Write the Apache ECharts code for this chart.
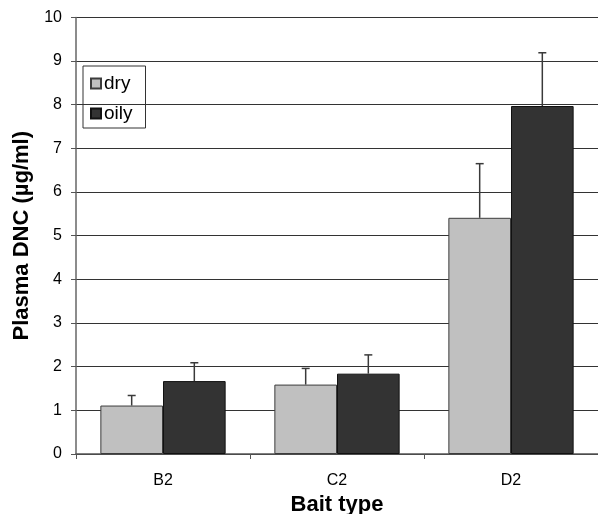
<!DOCTYPE html>
<html>
<head>
<meta charset="utf-8">
<script src="https://cdn.jsdelivr.net/npm/echarts@6/dist/echarts.min.js"></script>
<style>html,body{margin:0;padding:0;background:#fff}#c{width:598px;height:514px}</style>
</head>
<body>
<div id="c"></div>
<script>
const categories = ['B2', 'C2', 'D2'];
const dryValues = [1.11, 1.59, 5.41];
const oilyValues = [1.67, 1.84, 7.97];
const dryErrors = [0.23, 0.37, 1.24];
const oilyErrors = [0.42, 0.43, 1.22];
const yTicks = [0, 1, 2, 3, 4, 5, 6, 7, 8, 9, 10];

const GAP = 0.28;
const FONT = '"Liberation Sans", Arial, sans-serif';

function errorSeries(values, errors, sign) {
  return {
    type: 'custom',
    z: 5,
    silent: true,
    data: values.map((v, i) => [i, v, v + errors[i]]),
    renderItem: function (params, api) {
      const band = api.size([1, 0])[0];
      const bw = band * (1 - GAP) / 2;
      const base = api.coord([api.value(0), api.value(1)]);
      const top = api.coord([api.value(0), api.value(2)]);
      const x = base[0] + sign * bw / 2;
      const style = { stroke: '#3a3a3a', lineWidth: 1.5 };
      return {
        type: 'group',
        children: [
          { type: 'line', shape: { x1: x, y1: base[1], x2: x, y2: top[1] }, style: style },
          { type: 'line', shape: { x1: x - 4, y1: top[1], x2: x + 4, y2: top[1] }, style: style }
        ]
      };
    }
  };
}

const chart = echarts.init(document.getElementById('c'));
chart.setOption({
  animation: false,
  textStyle: { fontFamily: FONT },
  grid: { left: 76, right: 0, top: 17.4, bottom: 60, containLabel: false, outerBoundsMode: 'none' },
  legend: {
    data: ['dry', 'oily'],
    orient: 'vertical',
    left: 83,
    top: 66,
    itemWidth: 10,
    itemHeight: 10,
    itemGap: 11,
    padding: [8, 13, 5, 7],
    borderColor: '#333',
    borderWidth: 1,
    icon: 'rect',
    textStyle: { fontSize: 19, lineHeight: 19, color: '#000', fontFamily: FONT, padding: [0, 0, 0, -2] }
  },
  xAxis: {
    type: 'category',
    data: categories,
    name: 'Bait type',
    nameLocation: 'middle',
    nameGap: 39,
    nameTextStyle: { fontSize: 22, fontWeight: 'bold', color: '#000', fontFamily: FONT },
    axisLine: { lineStyle: { color: '#555', width: 1.5 } },
    axisTick: { show: true, alignWithLabel: false, length: 5, lineStyle: { color: '#555' } },
    axisLabel: { fontSize: 16, color: '#000', margin: 19, fontFamily: FONT }
  },
  yAxis: {
    type: 'value',
    min: 0,
    max: 10,
    interval: 1,
    name: 'Plasma DNC (µg/ml)',
    nameLocation: 'middle',
    nameGap: 41,
    nameTextStyle: { fontSize: 22, fontWeight: 'bold', color: '#000', fontFamily: FONT },
    axisLine: { show: true, lineStyle: { color: '#666', width: 1.5 } },
    axisTick: { show: true, length: 5, lineStyle: { color: '#555' } },
    axisLabel: { fontSize: 16, color: '#000', margin: 14, fontFamily: FONT,
      formatter: v => (yTicks.indexOf(v) >= 0 ? String(v) : '') },
    splitLine: { show: true, lineStyle: { color: '#333', width: 1 } }
  },
  series: [
    {
      name: 'dry', type: 'bar', data: dryValues,
      barGap: '0%', barCategoryGap: (GAP * 100) + '%',
      itemStyle: { color: '#c0c0c0', borderColor: '#3c3c3c', borderWidth: 1 }
    },
    {
      name: 'oily', type: 'bar', data: oilyValues,
      barGap: '0%', barCategoryGap: (GAP * 100) + '%',
      itemStyle: { color: '#333333', borderColor: '#111', borderWidth: 1 }
    },
    errorSeries(dryValues, dryErrors, -1),
    errorSeries(oilyValues, oilyErrors, 1)
  ]
});
</script>
</body>
</html>
